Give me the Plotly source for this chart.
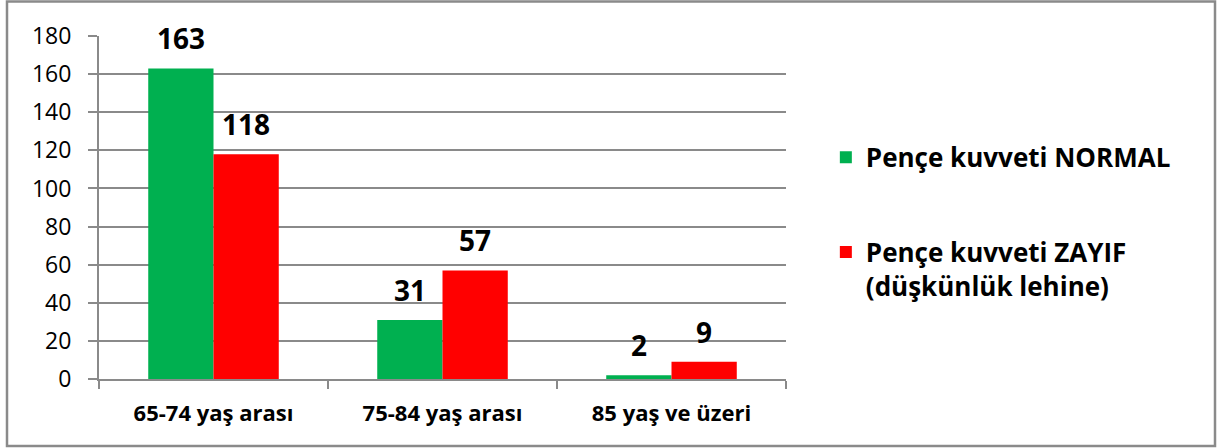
import plotly.graph_objects as go

categories = ["65-74 yaş arası", "75-84 yaş arası", "85 yaş ve üzeri"]
normal_vals = [163, 31, 2]
zayif_vals = [118, 57, 9]
series_names = ["Pençe kuvveti NORMAL", "Pençe kuvveti ZAYIF<br>(düşkünlük lehine)"]
series_colors = ["#00B050", "#FF0000"]
y_ticks = [0, 20, 40, 60, 80, 100, 120, 140, 160, 180]

FONT = "Open Sans"
GRAY = "#8A8A8A"
fig = go.Figure()
annotations = []
for i, (vals, name, color) in enumerate(zip([normal_vals, zayif_vals], series_names, series_colors)):
    fig.add_trace(go.Bar(x=categories, y=vals, name=name,
                         marker=dict(color=color, line=dict(width=0)),
                         legendgroup="g%d" % i))
    for c, v in zip(categories, vals):
        annotations.append(dict(x=c, y=v, xref="x", yref="y", text=str(v), showarrow=False,
                                xshift=(-32.5 if i == 0 else 32.5), yshift=30, yanchor="middle",
                                font=dict(family=FONT, size=28, color="#000000", weight="bold")))

fig.update_layout(
    width=1217, height=448,
    margin=dict(l=99, r=431, t=36, b=69),
    paper_bgcolor="white", plot_bgcolor="white",
    barmode="group", bargap=0.43, bargroupgap=0,
    showlegend=True,
    legend=dict(x=1.058, y=0.715, xanchor="left", yanchor="top", valign="top",
                font=dict(family=FONT, size=26, color="#000000", weight="bold"),
                tracegroupgap=58, traceorder="grouped", itemwidth=30),
    font=dict(family=FONT, color="#000000"),
    annotations=annotations,
    shapes=[dict(type="rect", xref="paper", yref="paper",
                 x0=(7 - 99) / 687, x1=(1215 - 99) / 687,
                 y0=(379 - 446) / 343, y1=(379 - 1.5) / 343,
                 line=dict(color=GRAY, width=2.5), fillcolor="rgba(0,0,0,0)", layer="below")],
)
fig.update_yaxes(range=[0, 180], tickvals=y_ticks, showgrid=True, gridcolor=GRAY, gridwidth=2,
                 showline=True, linecolor=GRAY, linewidth=2, ticks="outside", ticklen=9,
                 tickcolor=GRAY, tickwidth=2, zeroline=False,
                 tickfont=dict(family=FONT, size=23, color="#000000"), ticklabelstandoff=12)
fig.update_xaxes(showline=True, linecolor=GRAY, linewidth=2, ticks="outside", tickson="boundaries",
                 ticklen=8, tickcolor=GRAY, tickwidth=2,
                 tickfont=dict(family=FONT, size=22, color="#000000", weight="bold"), ticklabelstandoff=14)

fig.write_html("out.html", config={"displayModeBar": False},
               post_script="document.body.style.margin='0px';")
